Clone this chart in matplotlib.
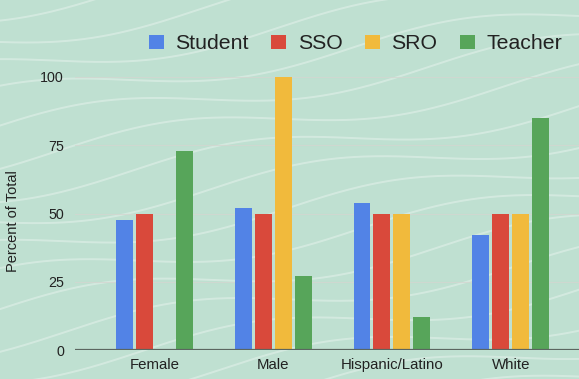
import matplotlib
matplotlib.use("Agg")
import matplotlib.pyplot as plt
import numpy as np

# data
categories = ["Female", "Male", "Hispanic/Latino", "White"]
series_names = ["Student", "SSO", "SRO", "Teacher"]
student = [47.5, 52, 54, 42]
sso = [50, 50, 50, 50]
sro = [0, 100, 50, 50]
teacher = [73, 27, 12, 85]
yticks = [0, 25, 50, 75, 100]

colors = ["#5283e6", "#d9493b", "#f1ba3c", "#57a55a"]
bg = "#bfe0d1"

plt.rcParams["font.family"] = ["Liberation Sans", "DejaVu Sans"]

fig = plt.figure(figsize=(5.79, 3.79), dpi=100, facecolor=bg)

# faint wavy background texture (decoration only)
deco = fig.add_axes([0, 0, 1, 1], zorder=0)
deco.set_xlim(0, 1)
deco.set_ylim(0, 1)
deco.axis("off")
t = np.linspace(0, 1, 200)
for k, y0 in enumerate(np.arange(-0.3, 1.2, 0.08)):
    yy = y0 + 0.22 * t + 0.035 * np.sin(2 * np.pi * (t * 1.3 + k * 0.17))
    deco.plot(t, yy, color="white", alpha=0.32, lw=1.4)

ax = fig.add_axes([75 / 579, 1 - 350 / 379, 1 - 75 / 579, 273 / 379], zorder=1)
ax.patch.set_alpha(0)

x = np.arange(len(categories))
pitch = 0.168
width = 0.143
all_vals = [student, sso, sro, teacher]
for i, (name, vals) in enumerate(zip(series_names, all_vals)):
    ax.bar(x + (i - 1.5) * pitch, vals, width=width, color=colors[i],
           label=name, zorder=3, clip_on=False)

ax.set_xlim(-0.667, 3.574)
ax.set_ylim(0, 100)
ax.set_yticks(yticks)
ax.set_xticks(x)
ax.set_xticklabels(categories, fontsize=10.8, color="#222222")
ax.tick_params(axis="y", labelsize=10.3, colors="#222222", length=0, pad=8)
ax.tick_params(axis="x", length=0, pad=6)
for s in ax.spines.values():
    s.set_visible(False)
ax.grid(axis="y", color="#d3d6d0", lw=0.8, alpha=0.8, zorder=1)
ax.axhline(0, color="#5b6660", lw=1.6, zorder=4)

fig.text(13 / 579, 1 - 221 / 379, "Percent of Total", rotation=90,
         ha="center", va="center", fontsize=10.5, color="#222222")

fig.legend(loc="center right", bbox_to_anchor=(562 / 579, 0.884), ncol=4,
           frameon=False, fontsize=15.3, handlelength=0.7, handleheight=0.7,
           handletextpad=0.55, columnspacing=1.05, borderaxespad=0,
           borderpad=0, labelcolor="#222222")

fig.savefig("out.png", dpi=100, facecolor=bg)
